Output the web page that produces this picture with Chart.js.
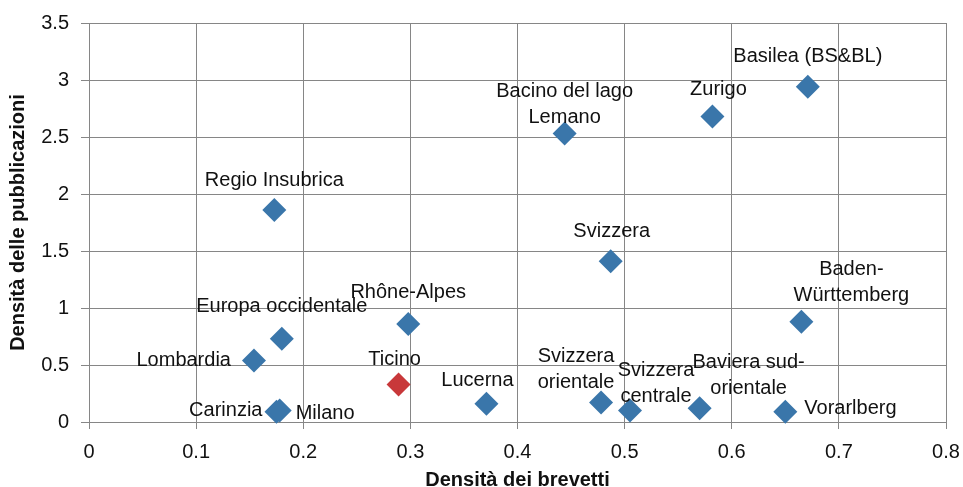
<!DOCTYPE html>
<html>
<head>
<meta charset="utf-8">
<script src="https://cdn.jsdelivr.net/npm/chart.js@4.4.1/dist/chart.umd.min.js"></script>
<style>
  html, body { margin: 0; padding: 0; background: #fff; }
  #wrap { width: 963px; height: 487px; }
</style>
</head>
<body>
<div id="wrap"><canvas id="chart"></canvas></div>
<script>
const regions = [
  "Basilea (BS&BL)", "Zurigo", "Bacino del lago Lemano", "Svizzera",
  "Regio Insubrica", "Rhône-Alpes", "Europa occidentale", "Lombardia",
  "Ticino", "Lucerna", "Carinzia", "Milano", "Svizzera orientale",
  "Svizzera centrale", "Baviera sud-orientale", "Vorarlberg", "Baden-Württemberg"
];
const patentDensity = [
  0.671, 0.582, 0.444, 0.487,
  0.173, 0.298, 0.180, 0.154,
  0.289, 0.371, 0.175, 0.178, 0.478,
  0.505, 0.570, 0.650, 0.665
];
const publicationDensity = [
  2.94, 2.68, 2.53, 1.41,
  1.86, 0.86, 0.73, 0.54,
  0.33, 0.16, 0.09, 0.10, 0.17,
  0.10, 0.12, 0.09, 0.88
];
const xTicks = [0, 0.1, 0.2, 0.3, 0.4, 0.5, 0.6, 0.7, 0.8];
const yTicks = [0, 0.5, 1, 1.5, 2, 2.5, 3, 3.5];
const highlighted = "Ticino";

// how each label sits next to its point: [dx, dy, align, lines]
const labelLayout = {
  "Basilea (BS&BL)": [0, -30, "center"],
  "Zurigo": [6, -27, "center"],
  "Bacino del lago Lemano": [0, -29, "center", ["Bacino del lago", "Lemano"]],
  "Svizzera": [1, -30, "center"],
  "Regio Insubrica": [0, -29, "center"],
  "Rhône-Alpes": [0, -31, "center"],
  "Europa occidentale": [0, -32, "center"],
  "Lombardia": [-23, 0, "right"],
  "Ticino": [-4, -25, "center"],
  "Lucerna": [-9, -23, "center"],
  "Carinzia": [-14, -1, "right"],
  "Milano": [16, 3, "left"],
  "Svizzera orientale": [-25, -33, "center", ["Svizzera", "orientale"]],
  "Svizzera centrale": [26, -27, "center", ["Svizzera", "centrale"]],
  "Baviera sud-orientale": [49, -33, "center", ["Baviera sud-", "orientale"]],
  "Vorarlberg": [19, -3, "left"],
  "Baden-Württemberg": [50, -39, "center", ["Baden-", "Württemberg"]]
};

const FONT = "'Liberation Sans', Arial, sans-serif";
const blue = "#3a76aa";
const red = "#c8383a";
const gridColor = "#868686";

const pointLabels = {
  id: "pointLabels",
  afterDatasetsDraw(chart) {
    const ctx = chart.ctx;
    const meta = chart.getDatasetMeta(0);
    ctx.save();
    ctx.font = "20px " + FONT;
    ctx.fillStyle = "#111";
    ctx.textBaseline = "middle";
    meta.data.forEach((pt, i) => {
      const name = regions[i];
      const [dx, dy, align, lines] = labelLayout[name];
      const rows = lines || [name];
      const lh = 26;
      ctx.textAlign = align;
      rows.forEach((row, r) => {
        const y = pt.y + dy + (r - (rows.length - 1) / 2) * lh;
        ctx.fillText(row, pt.x + dx, y);
      });
    });
    ctx.restore();
  }
};

new Chart(document.getElementById("chart"), {
  type: "scatter",
  data: {
    datasets: [{
      label: "Regioni",
      data: regions.map((r, i) => ({ x: patentDensity[i], y: publicationDensity[i] })),
      backgroundColor: regions.map(r => r === highlighted ? red : blue),
      borderWidth: 0,
      pointStyle: "rectRot",
      pointRadius: 12,
      pointHoverRadius: 12
    }]
  },
  options: {
    responsive: true,
    maintainAspectRatio: false,
    animation: false,
    clip: false,
    layout: { padding: { top: 23, right: 17, left: 0, bottom: 0 } },
    plugins: {
      legend: { display: false },
      tooltip: { enabled: false }
    },
    scales: {
      x: {
        type: "linear",
        min: 0,
        max: 0.8,
        afterBuildTicks: s => { s.ticks = xTicks.map(v => ({ value: v })); },
        afterFit: s => {
          s.height = 65;
          s.paddingLeft = 0;
          s.paddingRight = 0;
        },
        grid: { color: gridColor, lineWidth: 1, tickLength: 7, tickColor: gridColor },
        border: { color: gridColor, width: 1 },
        ticks: {
          color: "#111", font: { family: FONT, size: 20 }, padding: 11, maxRotation: 0,
          callback: v => String(v)
        },
        title: {
          display: true,
          text: "Densità dei brevetti",
          color: "#111",
          font: { family: FONT, size: 20, weight: "bold", lineHeight: 0.7 },
          padding: { top: 0, bottom: 0 }
        }
      },
      y: {
        type: "linear",
        min: 0,
        max: 3.5,
        afterBuildTicks: s => { s.ticks = yTicks.map(v => ({ value: v })); },
        afterFit: s => {
          s.width = 89;
          s.paddingTop = 0;
          s.paddingBottom = 0;
        },
        grid: { color: gridColor, lineWidth: 1, tickLength: 8, tickColor: gridColor },
        border: { color: gridColor, width: 1 },
        ticks: {
          color: "#111", font: { family: FONT, size: 20 }, padding: 12,
          callback: v => String(v)
        },
        title: {
          display: true,
          text: "Densità delle pubblicazioni",
          color: "#111",
          font: { family: FONT, size: 20, weight: "bold", lineHeight: 1 },
          padding: { top: 8, bottom: 0 }
        }
      }
    }
  },
  plugins: [pointLabels]
});
</script>
</body>
</html>
